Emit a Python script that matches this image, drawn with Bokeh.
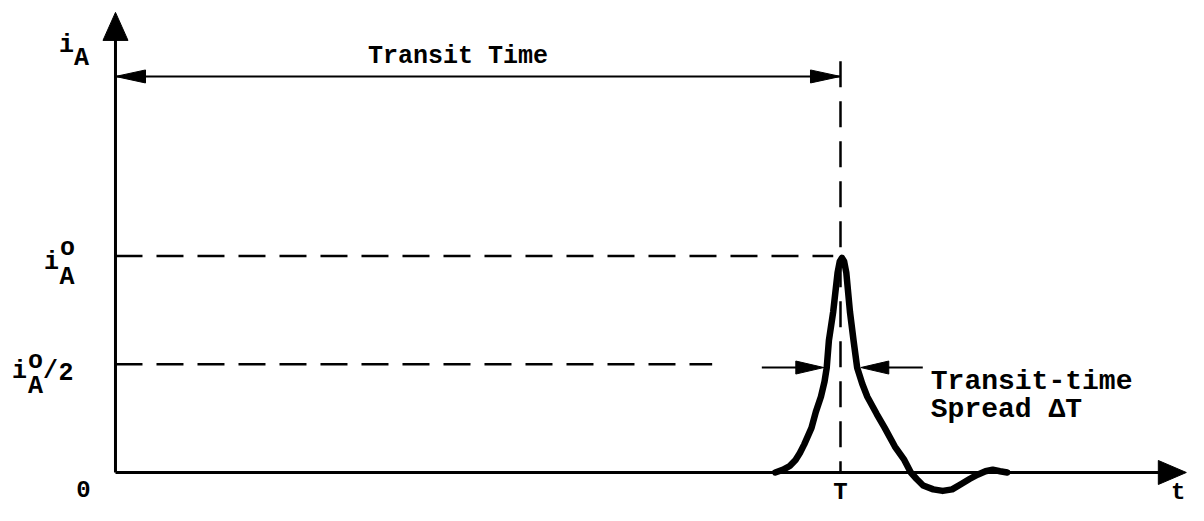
from bokeh.plotting import figure
from bokeh.models import Range1d, ColumnDataSource
from bokeh.core.properties import value
from bokeh.embed import file_html
from bokeh.resources import INLINE

# ---------------- data ----------------
# anode current pulse i_A(t); time in units where the transit time T = 10,
# current in units of the peak current i_A^o
t_pulse = [9.10, 9.21, 9.30, 9.38, 9.44, 9.50, 9.60, 9.66, 9.73, 9.78, 9.81, 9.84, 9.90,
           9.96, 9.99, 10.02, 10.05, 10.08, 10.13, 10.18, 10.23, 10.30, 10.37, 10.50,
           10.61, 10.75, 10.88, 10.97, 11.05, 11.14, 11.28, 11.41, 11.54, 11.66, 11.78,
           11.89, 12.00, 12.10, 12.20, 12.30]
i_pulse = [0.000, 0.013, 0.030, 0.058, 0.090, 0.130, 0.206, 0.280, 0.350, 0.420, 0.484,
           0.610, 0.744, 0.924, 0.975, 0.992, 0.975, 0.924, 0.744, 0.610, 0.484, 0.410,
           0.350, 0.270, 0.206, 0.120, 0.058, 0.000, -0.030, -0.060, -0.078, -0.085,
           -0.078, -0.054, -0.030, -0.010, 0.006, 0.013, 0.006, 0.000]

T_transit = 10.0            # transit time T
i_peak = 1.0                # i_A^o
i_half = 0.5                # i_A^o / 2
fwhm_edges = [9.77, 10.28]  # half-maximum edges (transit-time spread)
half_arrow_level = 0.485
level_line_end = [9.90, 8.23]   # extent of the dashed guides for i_A^o and i_A^o/2
transit_arrow_level = 1.83
guide_top = 1.90
y_axis_top = 2.126
x_axis_end = 14.77

y_label = ["i", "A"]
peak_label = ["i", "o", "A"]
half_label = ["i", "o", "A", "/", "2"]
origin_label = "0"
T_label = "T"
t_label = "t"
transit_text = "Transit Time"
spread_text = ["Transit-time", "Spread \u0394T"]

# ---------------- figure ----------------
W, H = 1188, 505
x0, x1 = -1.586, 14.80
y0, y1 = -0.1525, 2.1810
SX = W / (x1 - x0)
SY = H / (y1 - y0)
KY = SY / 223.0   # vertical squeeze relative to the reference drawing

p = figure(width=W, height=H, x_range=Range1d(x0, x1), y_range=Range1d(y0, y1),
           output_backend="svg", toolbar_location=None,
           x_axis_location=None, y_axis_location=None, min_border=0)
p.grid.grid_line_color = None
p.outline_line_color = None
p.background_fill_color = "white"
p.border_fill_color = "white"

INK = "#000000"
FONT = value("Liberation Mono")
STYLE = "bold"


def head(tx, ty, ux, uy, L, Wd):
    """triangle arrow head with tip at (tx, ty) data, direction (ux, uy) in screen px (y up)."""
    X, Y = tx * SX, ty * SY
    bx, by = X - ux * L, Y - uy * L
    nx, ny = -uy, ux
    xs = [X, bx + nx * Wd / 2, bx - nx * Wd / 2]
    ys = [Y, by + ny * Wd / 2, by - ny * Wd / 2]
    return [v / SX for v in xs], [v / SY for v in ys]


heads_x, heads_y = [], []
for hx, hy in [
    head(0, y_axis_top, 0, 1, 28, 25),
    head(x_axis_end, 0, 1, 0, 28, 24),
    head(0, transit_arrow_level, -1, 0, 30, 13),
    head(T_transit, transit_arrow_level, 1, 0, 30, 13),
    head(fwhm_edges[0], half_arrow_level, 1, 0, 28, 13),
    head(fwhm_edges[1], half_arrow_level, -1, 0, 28, 13),
]:
    heads_x.append(hx)
    heads_y.append(hy)

# dashed guides
p.multi_line(xs=[[0, level_line_end[0]], [0, level_line_end[1]]],
             ys=[[i_peak, i_peak], [i_half, i_half]],
             line_color=INK, line_width=2.5, line_dash="27 14")
p.line([T_transit, T_transit], [guide_top, 0], line_color=INK, line_width=2.5,
       line_dash="26 14")

# axes
p.multi_line(xs=[[0, 0], [0, x_axis_end - 20 / SX]],
             ys=[[0, y_axis_top - 20 / SY], [0, 0]],
             line_color=INK, line_width=3)

# transit time arrow and spread arrows
arrow_len = 62
p.multi_line(xs=[[0, T_transit],
                 [fwhm_edges[0] - arrow_len / SX, fwhm_edges[0] - 10 / SX],
                 [fwhm_edges[1] + 10 / SX, fwhm_edges[1] + arrow_len / SX]],
             ys=[[transit_arrow_level] * 2, [half_arrow_level] * 2, [half_arrow_level] * 2],
             line_color=INK, line_width=2)

p.patches(heads_x, heads_y, fill_color=INK, line_color=INK, line_width=1)

# pulse
p.line(t_pulse, i_pulse, line_color=INK, line_width=6.5, line_join="round", line_cap="round")

# ---------------- texts ----------------
c_x, c_y, c_t, c_dx, c_dy, c_s = [], [], [], [], [], []


def add(x, y, t, dx, dy, s="25px"):
    c_x.append(x); c_y.append(y); c_t.append(t); c_dx.append(dx); c_dy.append(dy); c_s.append(s)


for t, dx, dy in zip(y_label, [-49, -34], [34, 48]):
    add(0, y_axis_top, t, dx, dy * KY)
for t, dx, dy in zip(peak_label, [-64, -48, -48.5], [7, -8, 22]):
    add(0, i_peak, t, dx, dy * KY)
for t, dx, dy in zip(half_label, [-96, -80, -80, -65, -49.5], [7.5, -2.5, 23, 7.5, 7.5]):
    add(0, i_half, t, dx, dy * KY)
add(0, 0, origin_label, -32, 17, "24px")
add(T_transit, 0, T_label, 0, 20, "24px")
add(T_transit / 2, transit_arrow_level, transit_text, -20, -21 * KY, "25px")
add(x_axis_end, 0, t_label, -8, 20, "24px")

src_c = ColumnDataSource(dict(x=c_x, y=c_y, text=c_t, dx=c_dx, dy=c_dy, s=c_s))
p.text(x="x", y="y", text="text", x_offset="dx", y_offset="dy", text_font_size="s",
       source=src_c, text_font=FONT, text_font_style=STYLE, text_align="center",
       text_baseline="alphabetic", text_color=INK)

tail_x = fwhm_edges[1] + arrow_len / SX
src_l = ColumnDataSource(dict(x=[tail_x, tail_x], y=[half_arrow_level] * 2,
                              text=spread_text, dy=[14 * KY, 43 * KY]))
p.text(x="x", y="y", text="text", x_offset=8, y_offset="dy", source=src_l,
       text_font=FONT, text_font_style=STYLE, text_font_size="28px", text_align="left",
       text_baseline="alphabetic", text_color=INK)

open("out.html", "w").write(file_html(p, INLINE))
